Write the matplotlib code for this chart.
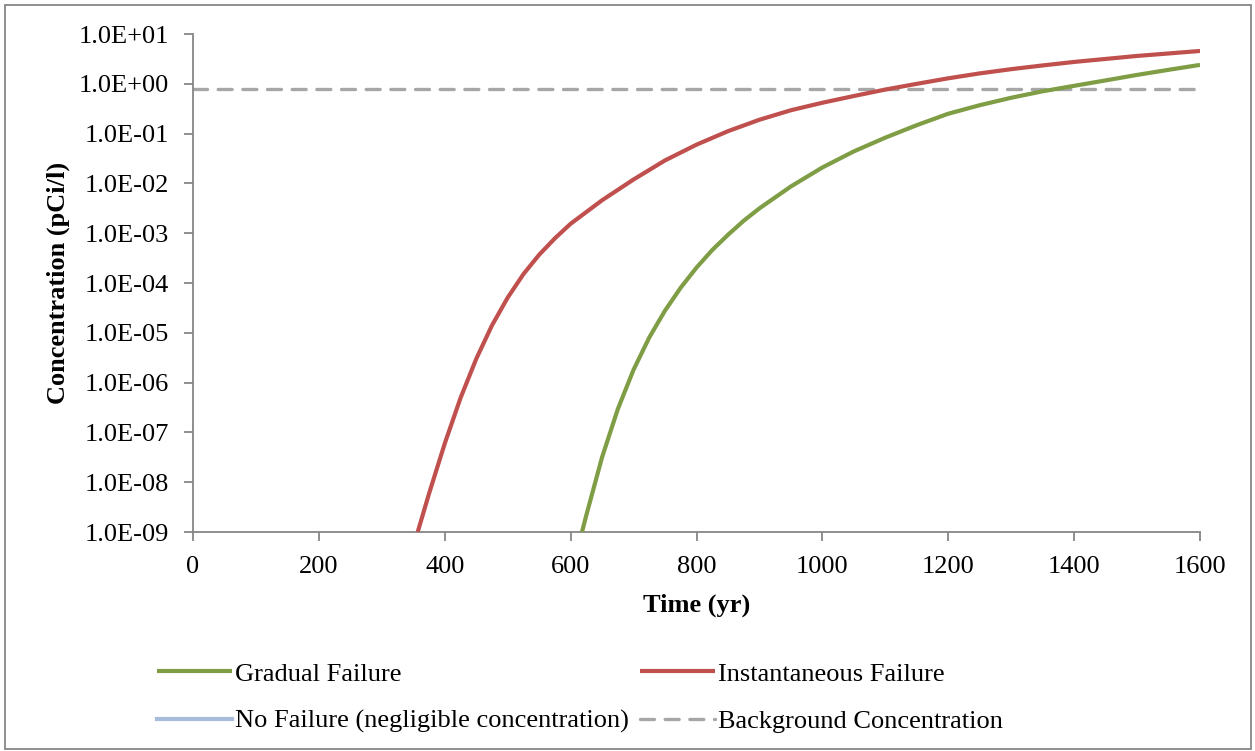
import matplotlib
matplotlib.use('Agg')
import matplotlib.pyplot as plt
from matplotlib.ticker import FuncFormatter, FixedLocator, NullLocator
from matplotlib.patches import Rectangle

plt.rcParams['font.family'] = ['Liberation Serif', 'DejaVu Serif']

# Datos ------------------------------------------------------------------------------->
anios_instantanea = [357, 375, 400, 425, 450, 475, 500, 525, 550, 575, 600, 650, 700, 750,
                     800, 850, 900, 950, 1000, 1050, 1100, 1150, 1200, 1250, 1300, 1350,
                     1400, 1450, 1500, 1550, 1600]
conc_instantanea = [1.0e-9, 5.9e-9, 6.0e-8, 4.9e-7, 3.0e-6, 1.41e-5, 5.1e-5, 1.51e-4, 3.7e-4,
                    7.9e-4, 1.55e-3, 4.6e-3, 1.20e-2, 2.9e-2, 6.0e-2, 0.112, 0.19, 0.295,
                    0.417, 0.569, 0.767, 1.0, 1.29, 1.62, 1.97, 2.34, 2.75, 3.16, 3.63, 4.07, 4.57]

anios_gradual = [618, 625, 650, 675, 700, 725, 750, 775, 800, 825, 850, 875, 900, 950, 1000,
                 1050, 1100, 1150, 1200, 1250, 1300, 1350, 1400, 1450, 1500, 1550, 1600]
conc_gradual = [1.0e-9, 2.2e-9, 3.2e-8, 2.95e-7, 1.82e-6, 8.1e-6, 2.8e-5, 8.1e-5, 2.04e-4,
                4.6e-4, 9.3e-4, 1.78e-3, 3.16e-3, 8.7e-3, 2.09e-2, 4.4e-2, 8.3e-2, 0.148,
                0.251, 0.372, 0.525, 0.708, 0.912, 1.17, 1.51, 1.91, 2.40]

# Sin falla: concentracion despreciable (fuera de escala)
anios_sin_falla = []
conc_sin_falla = []

anios_fondo = [0, 1600]
conc_fondo = [0.79, 0.79]

y_ticks = [1e-9, 1e-8, 1e-7, 1e-6, 1e-5, 1e-4, 1e-3, 1e-2, 1e-1, 1e0, 1e1]
x_ticks = [0, 200, 400, 600, 800, 1000, 1200, 1400, 1600]

# Grafico ----------------------------------------------------------------------------->
fig = plt.figure(figsize=(12.55, 7.51), dpi=100)
ax = fig.add_axes([0.1538, 0.2916, 0.8024, 0.6631])

verde = '#7F9D45'
rojo = '#C0504D'
azul = '#A7BBDA'
gris = '#A6A6A6'
eje = '#868686'
fs = 19

l_grad, = ax.plot(anios_gradual, conc_gradual, color=verde, lw=3.0, solid_capstyle='butt',
                  solid_joinstyle='round', label='Gradual Failure', zorder=3)
l_inst, = ax.plot(anios_instantanea, conc_instantanea, color=rojo, lw=3.0,
                  solid_capstyle='butt', solid_joinstyle='round',
                  label='Instantaneous Failure', zorder=3)
l_sin, = ax.plot(anios_sin_falla, conc_sin_falla, color=azul, lw=3.0,
                 label='No Failure (negligible concentration)')
l_fondo, = ax.plot(anios_fondo, conc_fondo, color=gris, lw=2.4, dashes=(4.2, 3.2),
                   dash_capstyle='round', label='Background Concentration', zorder=2)

ax.set_yscale('log')
ax.set_ylim(1e-9, 1e1)
ax.set_xlim(0, 1600)
ax.yaxis.set_major_locator(FixedLocator(y_ticks))
ax.yaxis.set_minor_locator(NullLocator())
ax.yaxis.set_major_formatter(FuncFormatter(lambda v, p: f'{v:.1E}'))
ax.set_xticks(x_ticks)

for s in ['top', 'right']:
    ax.spines[s].set_visible(False)
for s in ['left', 'bottom']:
    ax.spines[s].set_color(eje)
    ax.spines[s].set_linewidth(1.3)

ax.tick_params(axis='both', direction='out', length=6.5, width=1.3, color=eje,
               labelsize=fs, labelcolor='black')
ax.tick_params(axis='y', pad=11)
ax.tick_params(axis='x', pad=11)

ax.set_xlabel('Time (yr)', fontsize=fs, fontweight='bold', labelpad=11)
ax.set_ylabel('Concentration (pCi/l)', fontsize=fs, fontweight='bold', labelpad=6)

# Leyenda abajo en dos columnas
ax.legend([l_grad, l_sin, l_inst, l_fondo],
          [l_grad.get_label(), l_sin.get_label(), l_inst.get_label(), l_fondo.get_label()],
          ncol=2, loc='center', bbox_to_anchor=(0.462, 0.071),
          bbox_transform=fig.transFigure, frameon=False, fontsize=fs,
          handlelength=2.85, handletextpad=0.12, columnspacing=0.4, labelspacing=0.9)

# Borde del grafico
fig.patches.append(Rectangle((0.004, 0.003), 0.993, 0.991, transform=fig.transFigure,
                             fill=False, edgecolor='#868686', lw=1.3))

plt.savefig('out.png', dpi=100)
plt.close()
